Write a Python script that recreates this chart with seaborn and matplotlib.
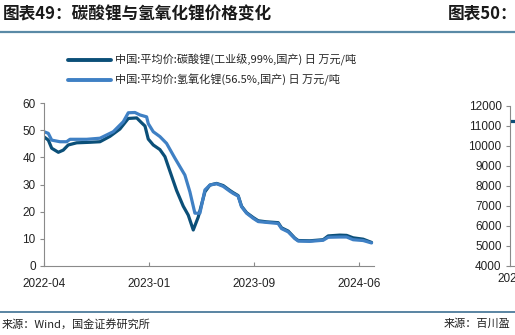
import matplotlib
matplotlib.use("Agg")
import matplotlib.pyplot as plt
import seaborn as sns
import pandas as pd
from matplotlib.lines import Line2D

sns.set_theme(style="white")
plt.rcParams['font.family'] = ['Liberation Sans', 'Noto Sans CJK SC', 'DejaVu Sans']

# ---- data (months since 2022-04, equal-spaced category axis) ----
carb_x = [0, 0.37, 0.66, 1.23, 1.65, 2.08, 2.80, 3.94, 4.80, 5.66, 6.51, 7.23, 7.95,
          8.37, 8.66, 8.94, 9.37, 9.94, 10.37, 10.80, 11.37, 11.94, 12.37, 12.80,
          13.23, 13.80, 14.23, 14.80, 15.37, 15.94, 16.22, 16.65, 16.94, 17.37,
          17.94, 18.37, 19.09, 20.08, 20.37, 20.94, 21.51, 21.80, 22.80, 23.94,
          24.37, 25.37, 25.95, 26.51, 27.37, 28.09]
carb_y = [47.6, 46.4, 43.4, 41.9, 42.7, 44.6, 45.4, 45.6, 45.8, 47.8, 50.5, 54.4, 54.6,
          52.8, 51.6, 46.8, 44.6, 42.9, 40.3, 34.9, 27.8, 22.0, 18.7, 13.2,
          18.0, 27.3, 29.8, 30.4, 29.6, 27.8, 27.0, 25.9, 22.0, 19.6,
          17.8, 16.6, 16.2, 15.9, 14.0, 12.8, 10.2, 9.3, 9.2, 9.6,
          11.0, 11.3, 11.2, 10.3, 9.8, 8.6]

hydro_x = [0, 0.37, 0.66, 1.37, 1.94, 2.23, 3.66, 4.80, 5.94, 6.80, 7.23, 7.80, 8.23,
           8.80, 8.94, 9.37, 9.94, 10.51, 11.23, 12.08, 12.51, 12.94, 13.37, 13.80,
           14.23, 14.80, 15.37, 15.94, 16.22, 16.65, 16.94, 17.37, 17.94, 18.37,
           19.09, 20.08, 20.37, 20.94, 21.51, 21.80, 22.80, 23.94, 24.37, 25.37,
           25.95, 26.51, 27.37, 28.09]
hydro_y = [49.5, 48.9, 46.4, 45.8, 45.8, 46.7, 46.7, 47.1, 49.5, 53.2, 56.5, 56.6, 55.7,
           55.0, 52.5, 49.5, 47.7, 45.2, 39.7, 33.5, 27.3, 19.4, 19.4, 28.0,
           29.8, 30.3, 29.3, 27.5, 26.7, 25.7, 21.8, 19.4, 17.5, 16.3,
           16.0, 15.6, 13.7, 12.5, 10.0, 9.1, 9.0, 9.4, 10.5, 10.6,
           10.6, 9.6, 9.3, 8.4]

tick_pos = [0, 9, 18, 27]
tick_labels = ["2022-04", "2023-01", "2023-09", "2024-06"]
y_ticks = [0, 10, 20, 30, 40, 50, 60]

series_names = ["中国:平均价:碳酸锂(工业级,99%,国产) 日 万元/吨",
                "中国:平均价:氢氧化锂(56.5%,国产) 日 万元/吨"]

right_x = [0, 0.6]
right_y = [11250, 11250]
right_ticks = [4000, 5000, 6000, 7000, 8000, 9000, 10000, 11000, 12000]

title_left = "图表49：碳酸锂与氢氧化锂价格变化"
title_right = "图表50："
src_left = "来源：Wind，国金证券研究所"
src_right = "来源：百川盈"

dark = "#0b4f78"
light = "#3f80c4"
grey = "#8a8a8a"

df = pd.concat([
    pd.DataFrame({"x": carb_x, "y": carb_y, "s": series_names[0]}),
    pd.DataFrame({"x": hydro_x, "y": hydro_y, "s": series_names[1]}),
])

W, H = 515, 335
fig = plt.figure(figsize=(W / 100, H / 100), dpi=100)

ax = fig.add_axes([44 / W, 1 - 265.7 / H, (374 - 44) / W, (265.7 - 103.3) / H])
sns.lineplot(data=df, x="x", y="y", hue="s", palette=[dark, light], sort=False,
             estimator=None, linewidth=2.3, ax=ax, legend=False)
ax.set_xlim(0, 28.3)
ax.set_ylim(0, 60)
ax.set_xticks(tick_pos)
ax.set_xticklabels(tick_labels)
ax.set_yticks(y_ticks)
ax.set_xlabel("")
ax.set_ylabel("")
for s in ["top", "right"]:
    ax.spines[s].set_visible(False)
for s in ["left", "bottom"]:
    ax.spines[s].set_color(grey)
    ax.spines[s].set_linewidth(0.8)
ax.tick_params(axis="y", direction="out", length=3, width=0.8, color=grey,
               labelsize=8.5, pad=3, left=True, labelcolor="#222222")
ax.tick_params(axis="x", direction="in", length=3, width=0.8, color=grey,
               labelsize=8.5, pad=8.5, bottom=True, labelcolor="#222222")

handles = [Line2D([0], [0], color=dark, lw=2.8), Line2D([0], [0], color=light, lw=2.8)]
fig.legend(handles, series_names, loc="upper left", bbox_to_anchor=(58 / W, 1 - 44 / H),
           frameon=False, handlelength=3.9, handletextpad=0.35,
           labelspacing=0.7, prop={"family": ["Noto Sans CJK SC", "DejaVu Sans"], "size": 8})

# partial right chart
ax2 = fig.add_axes([510 / W, 1 - 265.7 / H, 0.2, (265.7 - 106) / H])
sns.lineplot(x=right_x, y=right_y, color=dark, linewidth=2.3, ax=ax2)
ax2.set_xlim(0, 10)
ax2.set_ylim(4000, 12000)
ax2.set_yticks(right_ticks)
ax2.set_xticks([0])
ax2.set_xticklabels(["2023"])
for s in ["top", "right"]:
    ax2.spines[s].set_visible(False)
for s in ["left", "bottom"]:
    ax2.spines[s].set_color(grey)
    ax2.spines[s].set_linewidth(0.8)
ax2.tick_params(axis="y", direction="out", length=3, width=0.8, color=grey,
                labelsize=8.5, pad=3, left=True, labelcolor="#222222")
ax2.tick_params(axis="x", direction="in", length=0, labelsize=8.5, pad=5.5, labelcolor="#222222")

cjk = ["Noto Sans CJK SC", "DejaVu Sans"]
fig.text(3 / W, 1 - 14 / H, title_left, fontsize=12, fontweight="bold", va="center",
         ha="left", color="#1a1a1a", family=cjk, fontstyle="italic")
fig.text(448 / W, 1 - 14 / H, title_right, fontsize=12, fontweight="bold", va="center",
         ha="left", color="#1a1a1a", family=cjk, fontstyle="italic")

fig.add_artist(Line2D([0, 1], [1 - 31.5 / H, 1 - 31.5 / H], color="#5a8aa6", lw=1.6,
                      transform=fig.transFigure))
fig.add_artist(Line2D([0, 1], [1 - 311.7 / H, 1 - 311.7 / H], color="#3d6f92", lw=1.2,
                      transform=fig.transFigure))

fig.text(2 / W, 1 - 324 / H, src_left, fontsize=8, va="center", ha="left",
         color="#222222", family=cjk)
fig.text(444 / W, 1 - 324 / H, src_right, fontsize=8, va="center", ha="left",
         color="#222222", family=cjk)

fig.savefig("out.png", dpi=100)
